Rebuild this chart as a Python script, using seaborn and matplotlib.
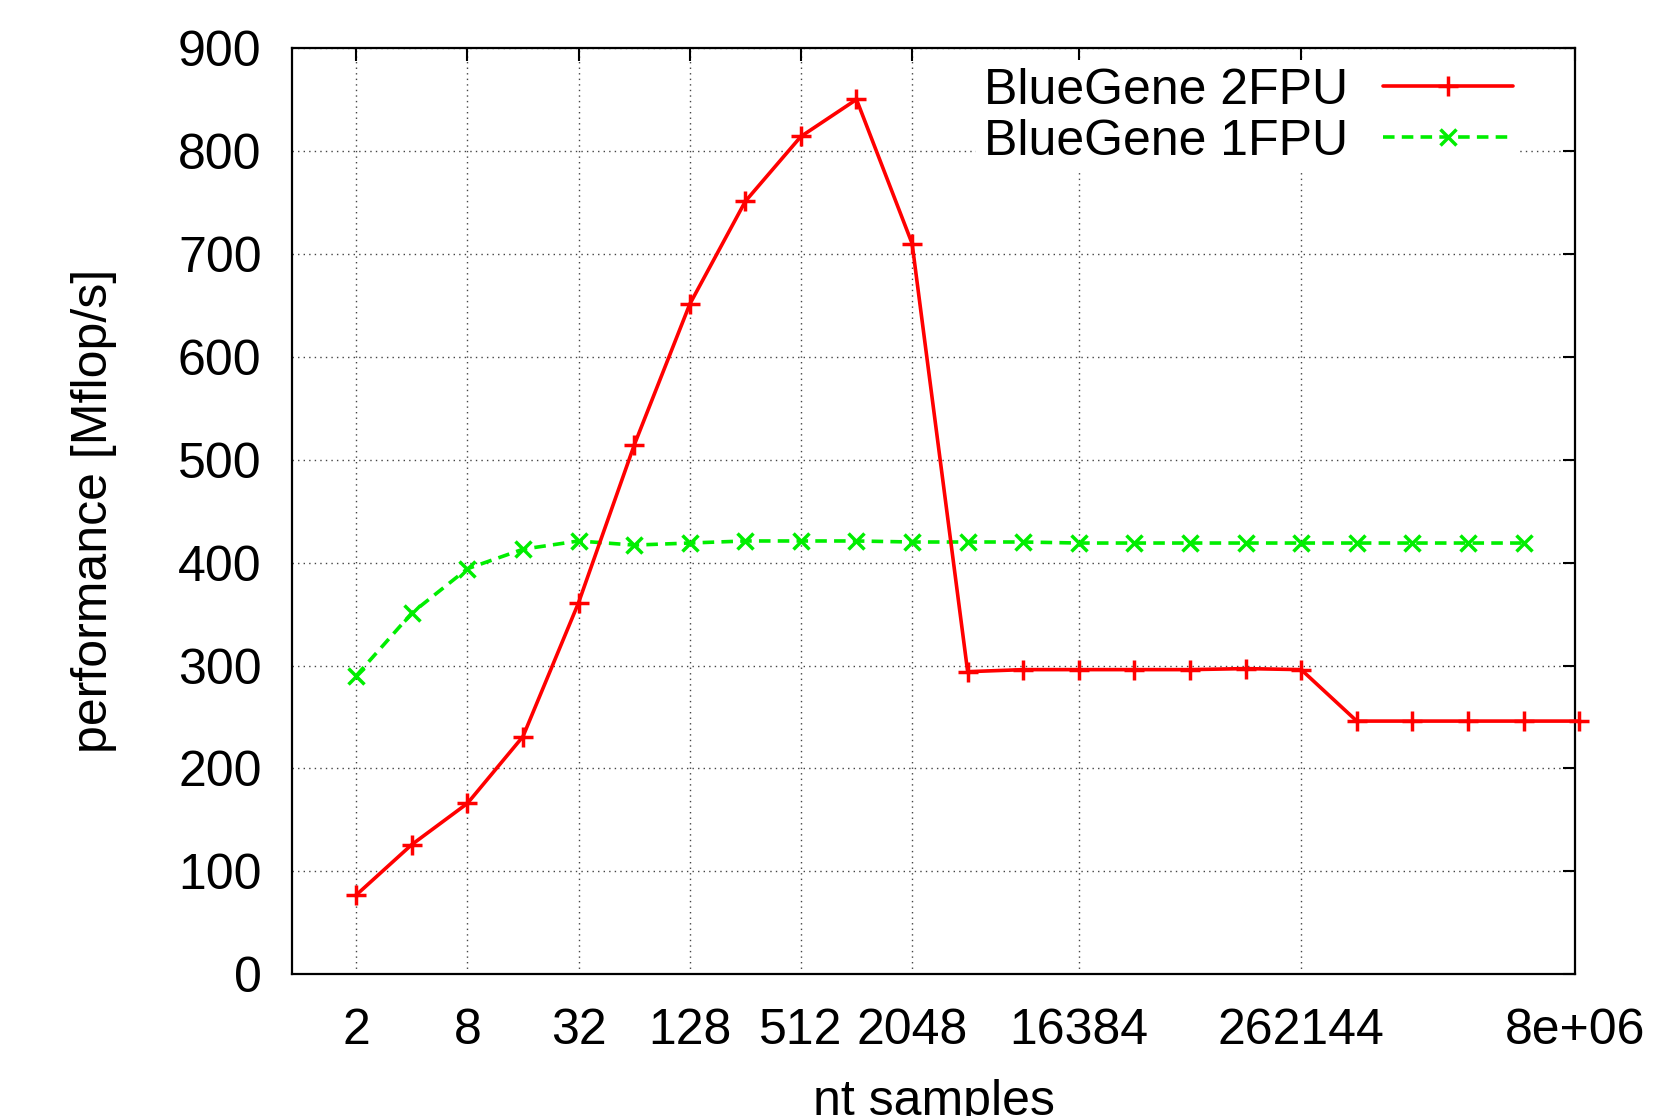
import numpy as np
import pandas as pd
import matplotlib
matplotlib.use("Agg")
import matplotlib.pyplot as plt
import seaborn as sns

# nt samples (powers of two)
nt_2fpu = [2 ** k for k in range(1, 24)]
perf_2fpu = [77, 126, 166, 231, 361, 514, 651, 751, 814, 850, 710,
             294, 296, 296, 296, 296, 297, 296, 246, 246, 246, 246, 246]

nt_1fpu = [2 ** k for k in range(1, 23)]
perf_1fpu = [290, 351, 394, 413, 421, 417, 419, 421, 421, 421, 420,
             420, 420, 419, 419, 419, 419, 419, 419, 419, 419, 419]

xtick_vals = [2, 8, 32, 128, 512, 2048, 16384, 262144, 8e6]
xtick_labels = ["2", "8", "32", "128", "512", "2048", "16384", "262144", "8e+06"]

df_2 = pd.DataFrame({"nt": nt_2fpu, "perf": perf_2fpu})
df_1 = pd.DataFrame({"nt": nt_1fpu, "perf": perf_1fpu})

sns.set_style("white")
plt.rcParams["font.family"] = ["Liberation Sans", "DejaVu Sans"]
plt.rcParams["text.color"] = "black"
plt.rcParams["axes.labelcolor"] = "black"
plt.rcParams["xtick.color"] = "black"
plt.rcParams["ytick.color"] = "black"

fig = plt.figure(figsize=(16.6, 11.16), dpi=100)
ax = fig.add_axes([0.176, 0.127, 0.773, 0.830])

sns.lineplot(data=df_2, x="nt", y="perf", ax=ax, color="#ff0000", linewidth=2.6,
             marker="+", markersize=14, markeredgewidth=2.5, markeredgecolor="#ff0000",
             label="BlueGene 2FPU", clip_on=False, zorder=4)
sns.lineplot(data=df_1, x="nt", y="perf", ax=ax, color="#00ee00", linewidth=2.6,
             marker="x", markersize=12, markeredgewidth=2.5, markeredgecolor="#00ee00",
             linestyle=(0, (3.2, 2.0)), label="BlueGene 1FPU", zorder=3)

ax.set_xscale("log", base=2)
ax.set_xlim(0.9, 8e6)
ax.set_ylim(0, 900)
ax.set_xticks(xtick_vals)
ax.set_xticklabels(xtick_labels)
ax.minorticks_off()
ax.set_yticks(np.arange(0, 901, 100))

ax.grid(True, color="#444444", linestyle=(0, (1, 3)), linewidth=1.0)
ax.tick_params(direction="in", length=9, width=1.5, labelsize=36,
               top=True, right=True, pad=22)
ax.tick_params(axis="x", pad=24)
for s in ax.spines.values():
    s.set_color("black")
    s.set_linewidth(1.6)

ax.set_xlabel("nt samples", fontsize=36, labelpad=18)
ax.set_ylabel("performance [Mflop/s]", fontsize=36, labelpad=44)

handles = ax.lines[:2]
leg = ax.legend(handles=handles, labels=["BlueGene 2FPU", "BlueGene 1FPU"],
                loc="upper right", bbox_to_anchor=(0.957, 0.987),
                fontsize=36, markerfirst=False, frameon=True,
                framealpha=1, edgecolor="white", handlelength=2.6,
                borderaxespad=0.0, labelspacing=0.1, handletextpad=0.7,
                borderpad=0.15)
leg.get_frame().set_linewidth(0)

fig.savefig("out.png", dpi=100)
plt.close(fig)
